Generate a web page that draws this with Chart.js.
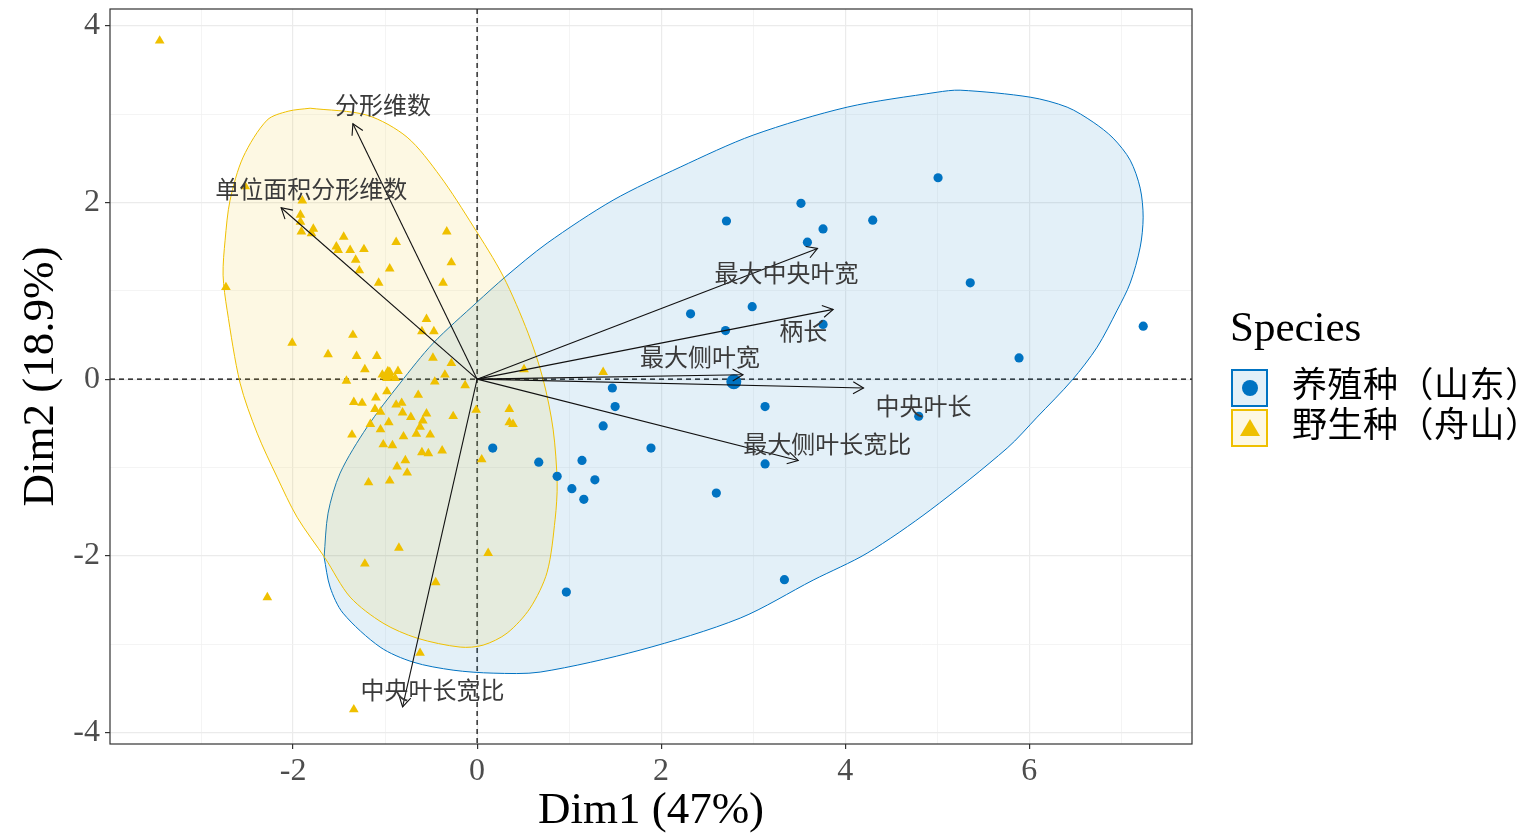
<!DOCTYPE html>
<html>
<head>
<meta charset="utf-8">
<script src="https://cdn.jsdelivr.net/npm/chart.js@4.4.0/dist/chart.umd.min.js"></script>
<style>
html, body { margin: 0; padding: 0; background: #fff; }
#wrap { position: relative; width: 1536px; height: 836px; }
.lg { position: absolute; font-family: "Liberation Serif", "Noto Sans CJK SC", serif; color: #000; white-space: nowrap; }
.key { position: absolute; width: 33px; height: 34px; border: 2px solid; }
.key.blue { border-color: #0073C2; background: rgba(0,115,194,0.11); }
.key.yellow { border-color: #EFC000; background: rgba(239,192,0,0.11); }
.dot { position: absolute; left: 9px; top: 9px; width: 16px; height: 16px; border-radius: 50%; background: #0073C2; }
.tri { position: absolute; left: 7px; top: 8px; width: 0; height: 0; border-left: 10px solid transparent; border-right: 10px solid transparent; border-bottom: 17px solid #EFC000; }
</style>
</head>
<body>
<div id="wrap">
  <canvas id="pca" width="1536" height="836"></canvas>
  <div class="lg" style="left:1230px; top:302px; font-size:43px;">Species</div>
  <div class="key blue" style="left:1231px; top:369px;"><i class="dot"></i></div>
  <div class="key yellow" style="left:1231px; top:409px;"><i class="tri"></i></div>
  <div class="lg" id="lg1" style="left:1292px; top:365px; font-size:35px; line-height:42px; letter-spacing:0.5px;"></div>
  <div class="lg" id="lg2" style="left:1292px; top:405px; font-size:35px; line-height:42px; letter-spacing:0.5px;"></div>
</div>
<script>
// groups
const groupNames = ['养殖种（山东）', '野生种（舟山）'];

// individuals, cultivated (Shandong)
const cultX = [2.71, 3.52, 3.76, 3.59, 4.30, 5.01, 5.36, 7.24, 5.89, 2.32, 2.99, 2.70, 3.76, 1.47, 1.50,
               3.13, 4.80, 1.37, 1.89, 0.17, 0.67, 1.14, 3.13, 0.87, 1.28, 1.03, 1.16, 2.60, 0.97, 3.34];
const cultY = [1.79, 1.99, 1.70, 1.55, 1.80, 2.28, 1.09, 0.60, 0.24, 0.74, 0.82, 0.55, 0.62, -0.10, -0.31,
               -0.31, -0.42, -0.53, -0.78, -0.78, -0.94, -0.92, -0.96, -1.10, -1.14, -1.24, -1.36, -1.29, -2.41, -2.27];

// individuals, wild (Zhoushan)
const wildX = [-1.90, -1.92, -1.92, -1.91, -1.78, -1.80, -1.45, -1.53, -1.51, -1.38, -1.23, -1.32, -1.28, -0.88, -0.95,
               -1.07, -0.33, -0.28, -0.37, -2.73, -2.52, -0.55, -0.60, -0.47, -2.01, -1.35, -1.62, -1.31, -1.09, -1.22,
               -0.48, -0.28, -0.35, -1.03, -0.95, -0.86, -0.98, -0.89, -1.42, -0.46, -0.13, 0.51, 1.37, -0.98, -1.10,
               -0.64, -1.34, -1.25, -0.88, -0.82, -1.11, -1.05, -0.81, -0.72, -0.55, -0.26, -0.59, -0.62, -0.66, -0.51,
               -0.96, -1.16, -1.05, -1.36, -0.80, -1.02, -0.92, -0.60, -0.53, -0.38, -0.78, -0.87, -0.76, -1.18, -0.95,
               -0.01, 0.35, 0.35, 0.39, 0.05, -0.85, -1.22, 0.12, -0.45, -2.28, -0.62, -1.34, -3.45];
const wildY = [2.02, 1.86, 1.78, 1.67, 1.70, 1.65, 1.61, 1.50, 1.46, 1.46, 1.47, 1.35, 1.23, 1.55, 1.25,
               1.09, 1.67, 1.32, 1.09, 1.04, 2.18, 0.68, 0.54, 0.54, 0.41, 0.50, 0.28, 0.26, 0.26, 0.11,
               0.24, 0.18, 0.05, 0.05, 0.08, 0.09, 0.01, 0.01, -0.02, -0.03, -0.07, 0.11, 0.08, -0.14, -0.21,
               -0.18, -0.26, -0.27, -0.29, -0.27, -0.34, -0.37, -0.38, -0.43, -0.39, -0.42, -0.47, -0.54, -0.62, -0.63,
               -0.49, -0.51, -0.57, -0.63, -0.65, -0.74, -0.75, -0.83, -0.84, -0.81, -0.92, -0.99, -1.06, -1.17, -1.15,
               -0.35, -0.34, -0.49, -0.51, -0.91, -1.91, -2.09, -1.97, -2.30, -2.47, -3.10, -3.74, 3.83];

// group means
const meanX = [2.79, -0.97];
const meanY = [-0.03, 0.05];

// confidence ellipse outlines
const cultEllX = [-1.663, -1.620, -1.489, -1.196, -0.837, -0.478, 0.000, 0.304, 0.761, 1.478, 2.207, 3.000, 4.022, 5.000,
                  5.250, 6.011, 6.413, 6.696, 6.913, 7.098, 7.207, 7.239, 7.207, 7.098, 6.957, 6.739, 6.467, 6.087,
                  5.761, 4.924, 4.239, 3.652, 2.859, 1.772, 0.685, 0.174, -0.261, -0.696, -1.054, -1.457, -1.598, -1.663];
const cultEllY = [-2.015, -1.517, -1.064, -0.543, -0.045, 0.407, 0.872, 1.155, 1.539, 2.026, 2.400, 2.762, 3.079, 3.248,
                  3.271, 3.192, 3.079, 2.909, 2.728, 2.479, 2.162, 1.834, 1.494, 1.087, 0.781, 0.362, -0.011, -0.430,
                  -0.781, -1.483, -1.970, -2.275, -2.705, -3.067, -3.316, -3.328, -3.294, -3.203, -3.033, -2.649, -2.354, -2.015];
const wildEllX = [-1.815, -1.196, -0.761, -0.402, -0.043, 0.283, 0.554, 0.717, 0.826, 0.870, 0.848, 0.761, 0.576, 0.326,
                  0.065, -0.185, -0.652, -1.022, -1.380, -1.652, -1.957, -2.174, -2.391, -2.576, -2.717, -2.761, -2.739,
                  -2.685, -2.543, -2.283, -2.054, -1.815];
const wildEllY = [3.067, 2.988, 2.739, 2.298, 1.732, 1.166, 0.521, 0.000, -0.566, -1.177, -1.585, -2.185, -2.592, -2.875,
                  -3.011, -3.033, -2.932, -2.762, -2.467, -2.026, -1.562, -1.109, -0.611, -0.045, 0.781, 1.177, 1.573,
                  2.026, 2.513, 2.932, 3.033, 3.067];

// variable arrows
const varNames = ['分形维数', '单位面积分形维数', '最大中央叶宽', '柄长', '最大侧叶宽', '中央叶长', '最大侧叶长宽比', '中央叶长宽比'];
const varX = [-1.35, -2.13, 3.70, 3.87, 2.89, 4.20, 3.49, -0.81];
const varY = [2.89, 1.94, 1.48, 0.79, 0.05, -0.10, -0.92, -3.71];

// axis
const xTitle = 'Dim1 (47%)';
const yTitle = 'Dim2 (18.9%)';

// label nudges in pixels (text placement only)
const labelShift = [[30, -19], [30, -19], [-31, 24], [-30, 22], [-43, -18], [60, 18], [29, -17], [30, -17]];

document.getElementById('lg1').textContent = groupNames[0];
document.getElementById('lg2').textContent = groupNames[1];

const BLUE = '#0073C2';
const YELLOW = '#EFC000';
const pts = (xs, ys) => xs.map((x, i) => ({ x: x, y: ys[i] }));

const datasets = [
    { data: pts(cultEllX, cultEllY), showLine: true, fill: 'shape', tension: 0.3,
      borderColor: BLUE, borderWidth: 1, backgroundColor: 'rgba(0,115,194,0.11)', pointRadius: 0, order: 10 },
    { data: pts(wildEllX, wildEllY), showLine: true, fill: 'shape', tension: 0.3,
      borderColor: YELLOW, borderWidth: 1, backgroundColor: 'rgba(239,192,0,0.11)', pointRadius: 0, order: 9 },
    { data: pts(cultX, cultY), pointStyle: 'circle', pointRadius: 4.6, backgroundColor: BLUE, borderWidth: 0, order: 3 },
    { data: pts(wildX, wildY), pointStyle: 'triangle', pointRadius: 5.6, backgroundColor: YELLOW, borderWidth: 0, order: 3 },
    { data: [{ x: meanX[0], y: meanY[0] }], pointStyle: 'circle', pointRadius: 7.5, backgroundColor: BLUE, borderWidth: 0, order: 2 },
    { data: [{ x: meanX[1], y: meanY[1] }], pointStyle: 'triangle', pointRadius: 9, backgroundColor: YELLOW, borderWidth: 0, order: 2 }
];
varNames.forEach((n, i) => {
    datasets.push({ data: [{ x: 0, y: 0 }, { x: varX[i], y: varY[i] }], showLine: true, isArrow: true, label: n,
        borderColor: '#111', borderWidth: 1.1, pointRadius: 0, order: 0 });
});

const zeroLines = {
    id: 'zeroLines',
    beforeDatasetsDraw(chart) {
        const { ctx, chartArea: a, scales: { x, y } } = chart;
        ctx.save();
        ctx.strokeStyle = '#000';
        ctx.lineWidth = 1.2;
        ctx.setLineDash([5, 4]);
        ctx.beginPath();
        ctx.moveTo(a.left, y.getPixelForValue(0));
        ctx.lineTo(a.right, y.getPixelForValue(0));
        ctx.moveTo(x.getPixelForValue(0), a.top);
        ctx.lineTo(x.getPixelForValue(0), a.bottom);
        ctx.stroke();
        ctx.restore();
    }
};

const arrowHeads = {
    id: 'arrowHeads',
    afterDatasetsDraw(chart) {
        const ctx = chart.ctx;
        let k = 0;
        ctx.save();
        chart.data.datasets.forEach((ds, di) => {
            if (!ds.isArrow) return;
            const m = chart.getDatasetMeta(di).data;
            const x0 = m[0].x, y0 = m[0].y, x1 = m[1].x, y1 = m[1].y;
            const ang = Math.atan2(y1 - y0, x1 - x0);
            const len = 12, spread = Math.PI / 6;
            ctx.strokeStyle = '#111';
            ctx.lineWidth = 1.1;
            ctx.beginPath();
            ctx.moveTo(x1 - len * Math.cos(ang - spread), y1 - len * Math.sin(ang - spread));
            ctx.lineTo(x1, y1);
            ctx.lineTo(x1 - len * Math.cos(ang + spread), y1 - len * Math.sin(ang + spread));
            ctx.stroke();
            const s = labelShift[k];
            ctx.fillStyle = '#3a3a3a';
            ctx.font = '24px "Noto Sans CJK SC"';
            ctx.textAlign = 'center';
            ctx.textBaseline = 'middle';
            ctx.fillText(ds.label, x1 + s[0], y1 + s[1]);
            k++;
        });
        ctx.restore();
    }
};

const frame = {
    id: 'frame',
    afterDraw(chart) {
        const { ctx, chartArea: a } = chart;
        ctx.save();
        ctx.strokeStyle = '#333';
        ctx.lineWidth = 1.2;
        ctx.strokeRect(a.left, a.top, a.right - a.left, a.bottom - a.top);
        ctx.restore();
    }
};

const isMajor = v => Math.abs(v % 2) === 0;
const gridOpts = {
    color: c => (c.tick && isMajor(c.tick.value)) ? '#EBEBEB' : '#F1F1F1',
    lineWidth: c => (c.tick && isMajor(c.tick.value)) ? 1.2 : 0.8,
    tickColor: c => (c.tick && isMajor(c.tick.value)) ? '#333' : 'rgba(0,0,0,0)',
    tickLength: 5
};
const tickFont = { family: '"Liberation Serif"', size: 32 };

new Chart(document.getElementById('pca'), {
    type: 'scatter',
    data: { datasets: datasets },
    options: {
        responsive: false,
        animation: false,
        layout: { padding: { top: 9, right: 344, left: 0, bottom: 0 } },
        plugins: { legend: { display: false }, tooltip: { enabled: false } },
        scales: {
            x: {
                min: -3.99, max: 7.77,
                afterFit: s => { s.height = 92; s.paddingLeft = 0; s.paddingRight = 0; },
                grid: gridOpts,
                border: { display: false },
                ticks: { stepSize: 1, includeBounds: false, autoSkip: false, maxRotation: 0, padding: 3,
                         color: '#4D4D4D', font: tickFont, callback: v => isMajor(v) ? String(v) : '' },
                title: { display: true, text: xTitle, color: '#000', padding: { top: 0, bottom: 2 },
                         font: { family: '"Liberation Serif"', size: 45, lineHeight: 1 } }
            },
            y: {
                min: -4.13, max: 4.19,
                afterFit: s => { s.width = 110; s.paddingTop = 0; s.paddingBottom = 0; },
                grid: gridOpts,
                border: { display: false },
                ticks: { stepSize: 1, includeBounds: false, autoSkip: false, padding: 5,
                         color: '#4D4D4D', font: tickFont, callback: v => isMajor(v) ? String(v) : '' },
                title: { display: true, text: yTitle, color: '#000', padding: { top: 19, bottom: 0 },
                         font: { family: '"Liberation Serif"', size: 45, lineHeight: 1 } }
            }
        }
    },
    plugins: [zeroLines, arrowHeads, frame]
});
</script>
</body>
</html>
